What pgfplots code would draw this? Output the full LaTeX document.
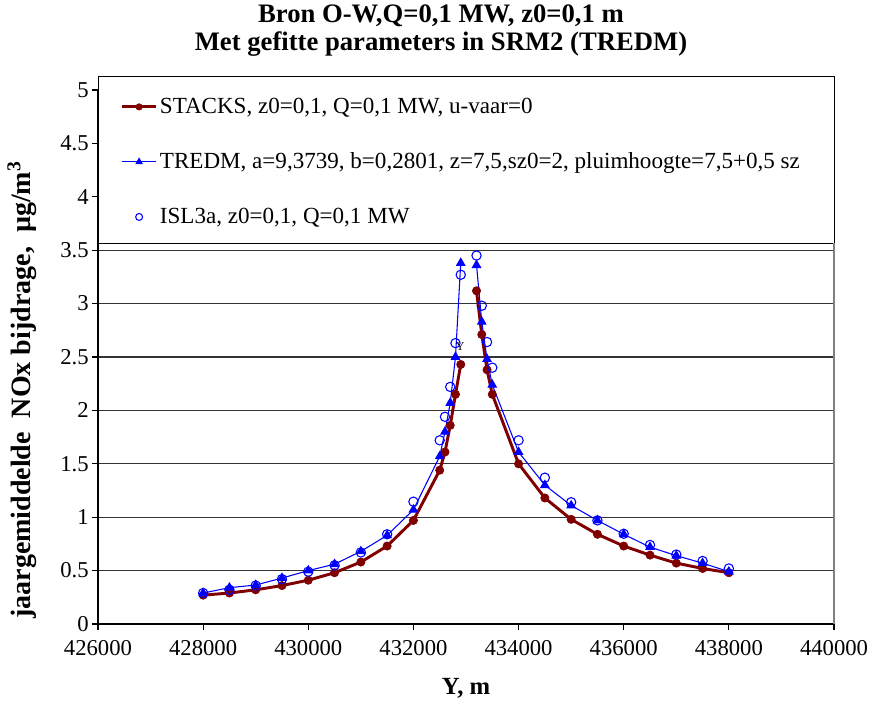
\documentclass[border=0pt]{standalone}
\usepackage{pgfplots}
\pgfplotsset{compat=1.18}
\usepackage{fontspec}
\setmainfont{Liberation Serif}
\definecolor{stackred}{RGB}{128,0,0}
\begin{document}
\begin{tikzpicture}
\useasboundingbox (-73.5pt,-58.5pt) rectangle (579.75pt,468pt);
\begin{axis}[
  at={(0pt,0pt)}, anchor=south west,
  width=552pt, height=400.5pt, scale only axis,
  xmin=426000, xmax=440000, ymin=0, ymax=5,
  xtick={426000,428000,430000,432000,434000,436000,438000,440000},
  xticklabels={426000,428000,430000,432000,434000,436000,438000,440000},
  ytick={0,0.5,1,1.5,2,2.5,3,3.5,4,4.5,5},
  yticklabels={0,0.5,1,1.5,2,2.5,3,3.5,4,4.5,5},
  scaled x ticks=false,
  axis lines*=left,
  axis line style={line width=1.4pt, black},
  tick align=outside, major tick length=4.5pt,
  tick style={black, line width=0.8pt},
  ymajorgrids, grid style={black!80, line width=0.9pt},
  clip=false,
  unbounded coords=jump,
  ticklabel style={font=\fontsize{17}{19}\selectfont},
  xticklabel style={yshift=-4pt},
  yticklabel style={xshift=1pt},
  legend style={at={(rel axis cs:0.0254,0.995)}, anchor=north west, draw=none, fill=none,
    font=\fontsize{17.3}{19}\selectfont, row sep=24pt},
  legend cell align=left,
]
\draw[line width=0.6pt, black, fill=white] (rel axis cs:0,1.026) rectangle (rel axis cs:1,0.7135);
\draw[gray, line width=1pt] (rel axis cs:1,0) -- (rel axis cs:1,0.7135);
\addplot[stackred, line width=2.2pt, mark=*, mark size=3.1pt, mark options={solid, line width=0.5pt},
  legend image code/.code={\draw[mark repeat=2,mark phase=2,mark size=2.4pt] plot coordinates {(0cm,0cm) (0.44cm,0cm) (0.88cm,0cm)};}] coordinates {
(428000,0.27) (428500,0.29) (429000,0.32) (429500,0.36) (430000,0.41) (430500,0.48)
(431000,0.58) (431500,0.73) (432000,0.97) (432500,1.44) (432600,1.61) (432700,1.86)
(432800,2.15) (432900,2.43) (433000,nan) (433200,3.12) (433300,2.71) (433400,2.38)
(433500,2.15) (434000,1.50) (434500,1.18) (435000,0.98) (435500,0.84) (436000,0.73)
(436500,0.645) (437000,0.57) (437500,0.52) (438000,0.48)
};
\addlegendentry{STACKS, z0=0,1, Q=0,1 MW, u-vaar=0}
\addplot[blue, line width=0.8pt, mark=triangle*, mark size=3.5pt, mark options={solid},
  legend image code/.code={\draw[mark repeat=2,mark phase=2,mark size=2.6pt] plot coordinates {(0cm,0cm) (0.44cm,0cm) (0.88cm,0cm)};}] coordinates {
(428000,0.29) (428500,0.34) (429000,0.365) (429500,0.43) (430000,0.50) (430500,0.56)
(431000,0.68) (431500,0.83) (432000,1.07) (432500,1.57) (432600,1.80) (432700,2.07)
(432800,2.50) (432900,3.38) (433000,nan) (433200,3.36) (433300,2.83) (433400,2.48)
(433500,2.24) (434000,1.61) (434500,1.30) (435000,1.11) (435500,0.97) (436000,0.84)
(436500,0.72) (437000,0.64) (437500,0.57) (438000,0.49)
};
\addlegendentry{TREDM, a=9,3739, b=0,2801, z=7,5,sz0=2, pluimhoogte=7,5+0,5 sz}
\addplot[blue, only marks, mark=o, mark size=3.5pt, mark options={line width=0.8pt},
  legend image code/.code={\draw (0cm,0cm) (0.88cm,0cm) plot[mark size=2.6pt] coordinates {(0.44cm,0cm)};}] coordinates {
(428000,0.29) (428500,0.32) (429000,0.36) (429500,0.42) (430000,0.49) (430500,0.55)
(431000,0.67) (431500,0.84) (432000,1.145) (432500,1.72) (432600,1.94) (432700,2.22)
(432800,2.63) (432900,3.27) (433200,3.45) (433300,2.98) (433400,2.64) (433500,2.40)
(434000,1.72) (434500,1.37) (435000,1.14) (435500,0.97) (436000,0.845) (436500,0.74)
(437000,0.65) (437500,0.59) (438000,0.52)
};
\addlegendentry{ISL3a, z0=0,1, Q=0,1 MW}
\node[font=\fontsize{9}{9}\selectfont] at (axis cs:432890,2.6) {Y};
\end{axis}
\node[font=\bfseries\fontsize{20}{21}\selectfont, align=center] at (257.25pt,444.75pt) {Bron O-W,Q=0,1 MW, z0=0,1 m\\Met gefitte parameters in SRM2 (TREDM)};
\node[rotate=90, font=\bfseries\fontsize{21}{23}\selectfont] at (-57pt,175.5pt) {jaargemiddelde\ \ NOx bijdrage,\ \ µg/m\textsuperscript{3}};
\node[font=\bfseries\fontsize{18.5}{20}\selectfont] at (276pt,-48pt) {Y, m};
\end{tikzpicture}
\end{document}
